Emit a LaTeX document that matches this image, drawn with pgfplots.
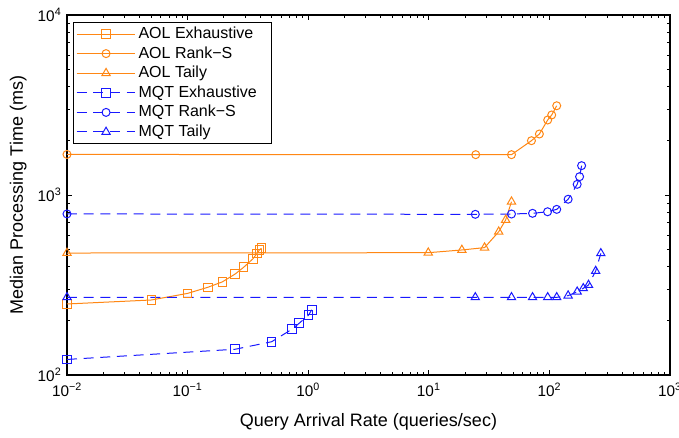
\documentclass[border=0pt]{standalone}
\usepackage{fontspec}
\setmainfont{Liberation Sans}
\usepackage{pgfplots}
\pgfplotsset{compat=1.18}
\definecolor{aol}{RGB}{255,135,20}
\definecolor{mqt}{RGB}{25,25,255}
\begin{document}
\fontsize{12}{14}\selectfont
\begin{tikzpicture}
\begin{axis}[
  xmode=log, ymode=log,
  scale only axis, width=452.25pt, height=270pt,
  xmin=0.01, xmax=1000, ymin=100, ymax=10000,
  xtick={0.01,0.1,1,10,100,1000},
  xticklabels={10\textsuperscript{−2},10\textsuperscript{−1},10\textsuperscript{0},10\textsuperscript{1},10\textsuperscript{2},10\textsuperscript{3}},
  minor xtick={0.02,0.03,0.04,0.05,0.06,0.07,0.08,0.09,0.2,0.3,0.4,0.5,0.6,0.7,0.8,0.9,2,3,4,5,6,7,8,9,20,30,40,50,60,70,80,90,200,300,400,500,600,700,800,900},
  ytick={100,1000,10000},
  yticklabels={10\textsuperscript{2},10\textsuperscript{3},10\textsuperscript{4}},
  minor ytick={200,300,400,500,600,700,800,900,2000,3000,4000,5000,6000,7000,8000,9000},
  tick align=inside,
  major tick length=4pt, minor tick length=2.5pt,
  every tick/.style={black, line width=0.6pt},
  axis line style={line width=0.8pt},
  tick label style={font=\fontsize{11.5}{13}\selectfont},
  xticklabel style={yshift=-2pt},
  xlabel={Query Arrival Rate (queries/sec)},
  ylabel={Median Processing Time (ms)},
  label style={font=\fontsize{13.5}{15}\selectfont},
  xlabel style={at={(axis description cs:0.5,-0.1306)}, anchor=center},
  ylabel style={at={(axis description cs:-0.081,0.5)}, anchor=center},
  legend style={at={(axis description cs:0.01,0.981)}, anchor=north west,
    draw=black, line width=0.8pt, font=\fontsize{12}{14}\selectfont,
    inner xsep=2pt, inner ysep=1.5pt, row sep=0.2pt},
  legend cell align=left,
  legend image code/.code={\draw[mark repeat=2,mark phase=2,#1] plot coordinates {(0pt,0pt) (22pt,0pt) (44pt,0pt)};},
  every axis plot/.append style={line width=0.75pt},
]
\addplot[color=aol, mark=square, mark size=3.2pt] coordinates {
 (0.01,248) (0.05,261) (0.1,284) (0.147,307) (0.194,329) (0.248,364) (0.292,397) (0.347,441) (0.377,474) (0.394,495) (0.41,506)};
\addlegendentry{AOL Exhaustive}
\addplot[color=aol, mark=o, mark size=3pt] coordinates {
 (0.01,1680) (24.5,1675) (48.5,1675) (71,2003) (82.6,2182) (96.8,2610) (104.5,2783) (115,3132)};
\addlegendentry{AOL Rank−S}
\addplot[color=aol, mark=triangle, mark size=3.6pt] coordinates {
 (0.01,476) (9.9,478) (18.8,495) (29,510) (38,625) (43.4,727) (48.5,918)};
\addlegendentry{AOL Taily}
\addplot[color=mqt, dash pattern=on 7.5pt off 5pt, mark=square, mark size=3.2pt, mark options={solid}] coordinates {
 (0.01,122) (0.248,139) (0.497,153) (0.733,179.5) (0.843,194) (1.006,215) (1.07,230)};
\addlegendentry{MQT Exhaustive\hspace*{7pt}}
\addplot[color=mqt, dash pattern=on 7.5pt off 5pt, mark=o, mark size=3pt, mark options={solid}] coordinates {
 (0.01,785) (24.3,781) (48.5,784) (72.5,791) (96.6,807) (115,832) (143,947) (170,1146) (178,1264) (185,1455)};
\addlegendentry{MQT Rank−S}
\addplot[color=mqt, dash pattern=on 7.5pt off 5pt, mark=triangle, mark size=3.6pt, mark options={solid}] coordinates {
 (0.01,270) (24.3,270) (48.5,270) (72.5,270) (96.8,270) (115,270) (143,276) (170,290) (191,303) (211,316) (242,378) (267,474)};
\addlegendentry{MQT Taily}
\end{axis}
\pgfresetboundingbox
\path[use as bounding box] (-50.25pt,-47.25pt) rectangle (459pt,281.25pt);
\end{tikzpicture}
\end{document}
